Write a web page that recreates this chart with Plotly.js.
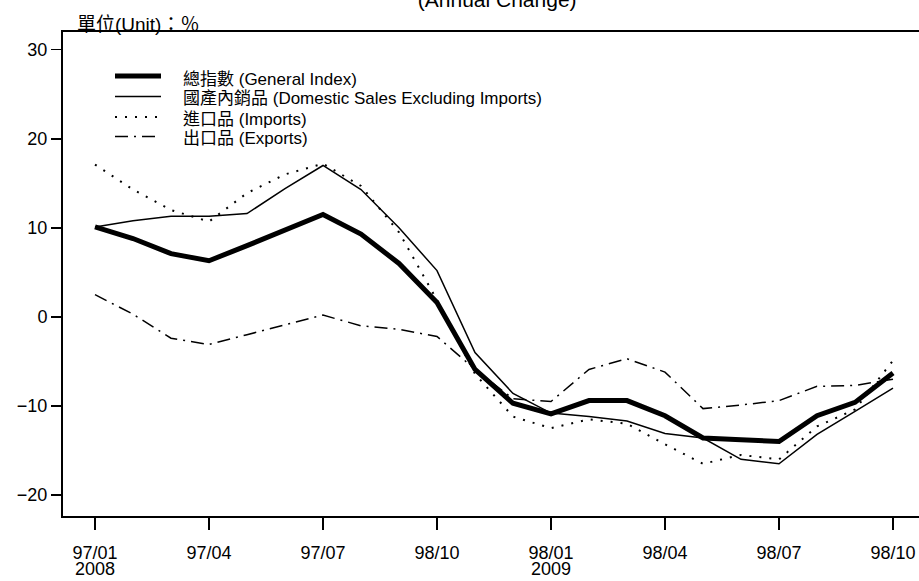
<!DOCTYPE html>
<html>
<head>
<meta charset="utf-8">
<script src="https://cdn.plot.ly/plotly-3.0.1.min.js"></script>
<style>
html,body{margin:0;padding:0;background:#fff;}
#chart{width:919px;height:581px;}
</style>
</head>
<body>
<div id="chart"></div>
<script>
// Months 97/01 (2008/01) .. 98/10 (2009/10), index 0..21
const monthIndex = [0,1,2,3,4,5,6,7,8,9,10,11,12,13,14,15,16,17,18,19,20,21];
const generalIndex = [10.1, 8.8, 7.1, 6.3, 8.0, 9.8, 11.5, 9.3, 6.0, 1.6, -5.9, -9.7, -10.9, -9.4, -9.4, -11.1, -13.6, -13.8, -14.0, -11.1, -9.6, -6.3];
const domesticSales = [10.1, 10.8, 11.3, 11.3, 11.6, 14.4, 17.0, 14.3, 10.0, 5.2, -4.0, -8.6, -10.8, -11.2, -11.7, -13.1, -13.6, -16.0, -16.5, -13.2, -10.6, -8.0];
const importsIdx = [17.1, 14.3, 12.0, 10.7, 13.9, 16.0, 17.2, 14.7, 9.5, 1.9, -6.4, -11.2, -12.5, -11.5, -12.0, -14.3, -16.5, -15.5, -16.0, -12.3, -10.4, -4.9];
const exportsIdx = [2.5, 0.3, -2.4, -3.1, -2.0, -0.9, 0.2, -1.0, -1.4, -2.2, -5.9, -9.2, -9.5, -5.9, -4.7, -6.2, -10.3, -9.9, -9.4, -7.8, -7.7, -7.0];

const tickPositions = [0,3,6,9,12,15,18,21];
const tickLabels = ["97/01","97/04","97/07","98/10","98/01","98/04","98/07","98/10"];
const yTickValues = [-20,-10,0,10,20,30];
const yearLabelPositions = [0,12];
const yearLabels = ["2008","2009"];

const seriesNames = ["總指數 (General Index)","國產內銷品 (Domestic Sales Excluding Imports)","進口品 (Imports)","出口品 (Exports)"];

const FONT = '"Liberation Sans", Arial, "Noto Sans CJK TC", sans-serif';

const lineStyles = [
  {color:'#000', width:5},
  {color:'#000', width:1.5},
  {color:'#000', width:2, dash:'2px,8px'},
  {color:'#000', width:1.5, dash:'13px,6px,2px,6px'}
];
const seriesValues = [generalIndex, domesticSales, importsIdx, exportsIdx];

const traces = seriesValues.map((vals,i)=>({
  x: monthIndex, y: vals, name: seriesNames[i], mode:'lines', line: lineStyles[i], showlegend:false
}));

// plot area in pixels: left 63, width 856, top 32, height 484
const px = p => (p-63)/856;
const py = p => (516-p)/484;

const legendLineY = [76, 96.5, 117, 136.5];
const legendTextY = [79.5, 98.5, 119.5, 138.5];

const shapes = seriesNames.map((n,i)=>({
  type:'line', xref:'paper', yref:'paper',
  x0: px(115), x1: px(161), y0: py(legendLineY[i]), y1: py(legendLineY[i]),
  line: lineStyles[i]
}));

const annotations = seriesNames.map((n,i)=>({
  x: px(181), xref:'paper', y: py(legendTextY[i]), yref:'paper', xanchor:'left', yanchor:'middle',
  text: n, showarrow:false, font:{family:FONT, size:17, color:'#000'}
}));

yearLabelPositions.forEach((p,i)=>annotations.push({
  x: p, xref:'x', y: 0, yref:'paper', yanchor:'middle', yshift:-53,
  text: yearLabels[i], showarrow:false, font:{family:FONT, size:18, color:'#000'}
}));
annotations.push({
  x: px(75), xref:'paper', y: 1, yref:'paper', xanchor:'left', yanchor:'bottom', yshift:-5,
  text:'單位(Unit)：％', showarrow:false, font:{family:FONT, size:19, color:'#000'}
});

const layout = {
  width: 919, height: 581,
  margin: {l:63, r:0, t:32, b:65},
  paper_bgcolor:'#fff', plot_bgcolor:'#fff',
  font: {family: FONT, size: 18, color:'#000'},
  title: {text:'(Annual Change)', x:0.541, xanchor:'center', xref:'container', y:1.0, yref:'container', yanchor:'middle', font:{family:FONT, size:21, color:'#000'}},
  showlegend: false,
  xaxis: {
    range:[-0.842, 21.684], tickmode:'array', tickvals: tickPositions, ticktext: tickLabels,
    showgrid:false, zeroline:false, showline:true, linecolor:'#000', linewidth:2, mirror:true,
    ticks:'outside', ticklen:12, tickwidth:1.5, tickcolor:'#000', ticklabelstandoff:7,
    tickfont:{family:FONT, size:18, color:'#000'}
  },
  yaxis: {
    range:[-22.36, 31.99], tickmode:'array', tickvals: yTickValues,
    showgrid:false, zeroline:false, showline:true, linecolor:'#000', linewidth:2,
    ticks:'outside', ticklen:10, tickwidth:1.5, tickcolor:'#000',
    tickfont:{family:FONT, size:18, color:'#000'}
  },
  shapes: shapes,
  annotations: annotations
};

Plotly.newPlot('chart', traces, layout, {displayModeBar:false, staticPlot:true});
</script>
</body>
</html>
